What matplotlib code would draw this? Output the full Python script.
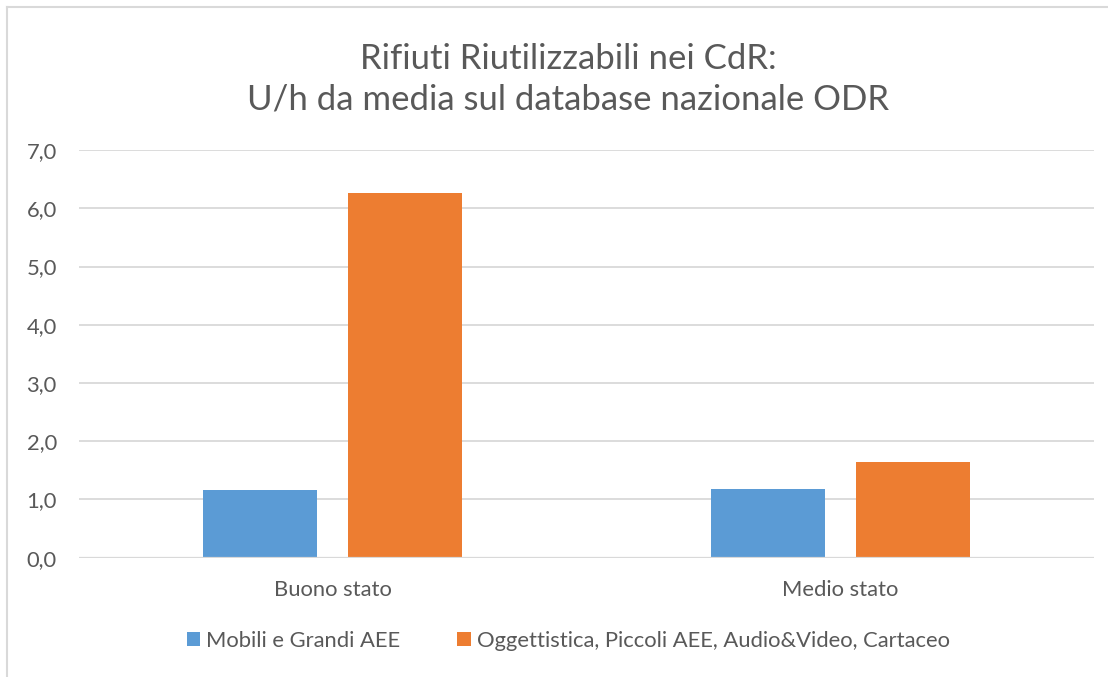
import matplotlib
matplotlib.use("Agg")
import matplotlib.pyplot as plt
from matplotlib.lines import Line2D
import numpy as np

categories = ["Buono stato", "Medio stato"]
series_names = ["Mobili e Grandi AEE",
                "Oggettistica, Piccoli AEE, Audio&Video, Cartaceo"]
mobili = [1.17, 1.18]
oggettistica = [6.26, 1.65]
colors = ["#5B9BD5", "#ED7D31"]
yticks = [0, 1, 2, 3, 4, 5, 6, 7]
ytick_labels = ["0,0", "1,0", "2,0", "3,0", "4,0", "5,0", "6,0", "7,0"]

TXT = "#595959"
plt.rcParams["font.family"] = ["Lato", "DejaVu Sans"]

fig = plt.figure(figsize=(11.08, 6.77), dpi=100)
ax = fig.add_axes([0.0713, 0.1762, 0.9161, 0.6022])

x = np.arange(len(categories))
w = 0.2246
off = 0.1427
b1 = ax.bar(x - off, mobili, w, color=colors[0], label=series_names[0], zorder=3)
b2 = ax.bar(x + off, oggettistica, w, color=colors[1], label=series_names[1], zorder=3)

ax.set_xlim(-0.5, 1.5)
ax.set_ylim(0, 7)
ax.set_yticks(yticks)
ax.set_yticklabels(ytick_labels)
ax.set_xticks(x)
ax.set_xticklabels(categories)
ax.tick_params(axis="both", length=0, labelsize=15.8, colors=TXT)
ax.tick_params(axis="y", pad=16)
ax.tick_params(axis="x", pad=16)
for s in ax.spines.values():
    s.set_visible(False)
ax.grid(axis="y", color="#D9D9D9", lw=1.3, zorder=0)
ax.axhline(0, color="#D9D9D9", lw=1.6, zorder=4)

fig.text(0.513, 0.883, "Rifiuti Riutilizzabili nei CdR:\nU/h da media sul database nazionale ODR",
         ha="center", va="center", fontsize=25, color=TXT, linespacing=1.35)

fig.legend(handles=[b1, b2], loc="center", bbox_to_anchor=(0.513, 0.053), ncol=2,
           frameon=False, fontsize=15.8, labelcolor=TXT, handlelength=0.6,
           handleheight=0.6, handletextpad=0.3, columnspacing=2.6)

# chart border (left and top edges visible)
fig.add_artist(Line2D([7 / 1108, 7 / 1108], [0, 1 - 7 / 677], color="#D9D9D9", lw=1.5))
fig.add_artist(Line2D([7 / 1108, 1], [1 - 7 / 677, 1 - 7 / 677], color="#D9D9D9", lw=1.5))

fig.savefig("out.png", dpi=100)
